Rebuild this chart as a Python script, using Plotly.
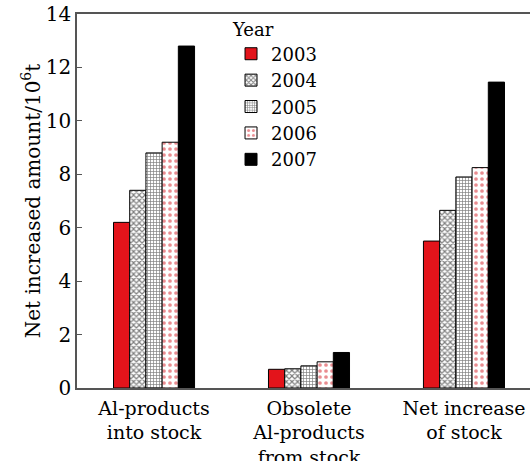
import plotly.graph_objects as go

# Stock categories (x axis) and yearly net amounts, 10^6 t
categories = ["Al-products<br>into stock", "Obsolete<br>Al-products<br>from stock", "Net increase<br>of stock"]
years = ["2003", "2004", "2005", "2006", "2007"]
values_2003 = [6.2, 0.7, 5.5]
values_2004 = [7.4, 0.72, 6.65]
values_2005 = [8.8, 0.83, 7.9]
values_2006 = [9.2, 0.98, 8.25]
values_2007 = [12.8, 1.33, 11.45]
y_ticks = [0, 2, 4, 6, 8, 10, 12, 14]

series = [values_2003, values_2004, values_2005, values_2006, values_2007]
styles = [
    dict(color="#e3141b", pattern=dict(shape="")),
    dict(color="white", pattern=dict(shape="x", fgcolor="black", bgcolor="white", size=4, solidity=0.5)),
    dict(color="white", pattern=dict(shape="+", fgcolor="black", bgcolor="white", size=3, solidity=0.4)),
    dict(color="white", pattern=dict(shape=".", fgcolor="#d41a22", bgcolor="white", size=6, solidity=0.3)),
    dict(color="black", pattern=dict(shape="")),
]

fig = go.Figure()
for year, vals, st in zip(years, series, styles):
    fig.add_trace(go.Bar(
        x=list(range(len(categories))), y=vals, name=year,
        marker=dict(color=st["color"], pattern=st["pattern"],
                    line=dict(color="black", width=1)),
    ))

SERIF = "DejaVu Serif"
font = dict(family=SERIF, color="black")
fig.update_layout(
    width=530, height=461,
    margin=dict(l=77, r=0, t=14, b=73),
    paper_bgcolor="white", plot_bgcolor="white",
    barmode="group", bargap=0.477, bargroupgap=0,
    font=dict(size=19, **font),
    showlegend=True,
    legend=dict(
        title=dict(text="Year", font=dict(size=18, **font)),
        font=dict(size=18, **font),
        x=0.34, y=1.005, xanchor="left", yanchor="top",
        bgcolor="rgba(0,0,0,0)", tracegroupgap=0, itemwidth=30,
    ),
)
fig.update_xaxes(
    tickvals=list(range(len(categories))), ticktext=categories,
    range=[-0.497, 2.426], showline=True, linecolor="#555", linewidth=1.5,
    mirror=True, ticks="", showgrid=False, zeroline=False,
    tickfont=dict(size=19, **font), automargin=False, ticklabelstandoff=2,
)
fig.update_yaxes(
    range=[0, 14], tickvals=y_ticks, showline=True, linecolor="#555", linewidth=1.5,
    ticks="inside", ticklen=5, tickcolor="#555", showgrid=False, zeroline=False,
    tickfont=dict(size=20, **font), automargin=False,
    title=dict(text="Net increased amount/10<sup>6</sup>t", font=dict(size=20, **font), standoff=0),
)

fig.write_html("out.html")
